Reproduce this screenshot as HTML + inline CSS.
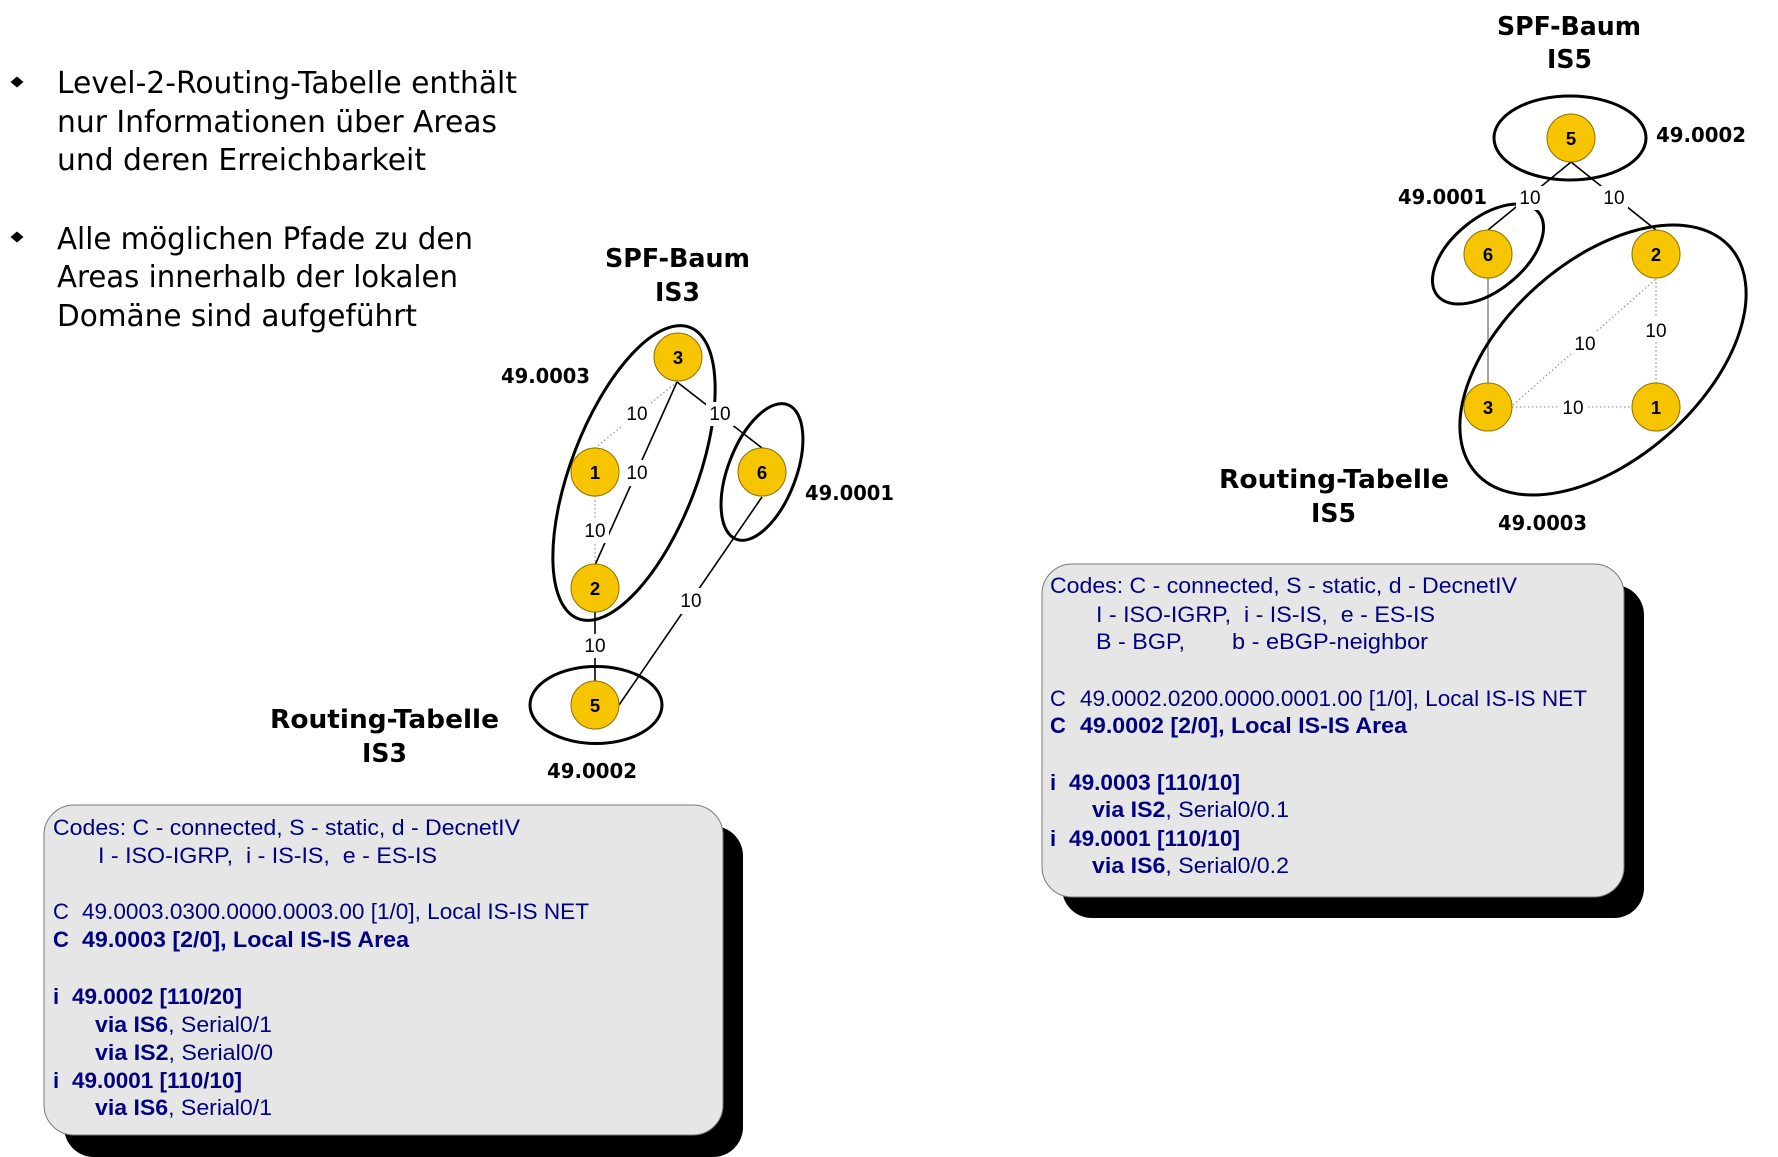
<!DOCTYPE html>
<html><head><meta charset="utf-8"><style>
html,body{margin:0;padding:0;background:#fff;}
svg{display:block;}
.bl{font-family:"DejaVu Sans",sans-serif;font-size:30px;fill:#000;}
.tt{font-family:"DejaVu Sans",sans-serif;font-weight:bold;font-size:25.5px;fill:#000;}
.ar{font-family:"DejaVu Sans",sans-serif;font-weight:bold;font-size:20.5px;fill:#000;}
.el{font-family:"Liberation Sans",sans-serif;font-size:19px;fill:#000;text-anchor:middle;}
.nd{font-family:"Liberation Sans",sans-serif;font-weight:bold;font-size:18.5px;fill:#000;text-anchor:middle;}
.tx{font-family:"Liberation Sans",sans-serif;font-size:22px;fill:#000080;white-space:pre;}
.bd{font-weight:bold;}
.node{fill:#F7C500;stroke:#8a7200;stroke-width:1;}
.ell{fill:none;stroke:#000;stroke-width:3;}
.sol{stroke:#000;stroke-width:1.6;fill:none;}
.dot{stroke:#9a9a9a;stroke-width:1.3;stroke-dasharray:1.5 2.5;fill:none;}
</style></head><body>
<svg width="1778" height="1157" viewBox="0 0 1778 1157" xmlns="http://www.w3.org/2000/svg">
<rect width="1778" height="1157" fill="#fff"/>

<!-- Bullets -->
<path d="M17 76.5 L23.5 82 L17 87.5 L10.5 82 Z" fill="#000"/>
<path d="M17 231.5 L23.5 237 L17 242.5 L10.5 237 Z" fill="#000"/>
<text class="bl" x="57" y="93" textLength="460" lengthAdjust="spacingAndGlyphs">Level-2-Routing-Tabelle enthält</text>
<text class="bl" x="57" y="132" textLength="440" lengthAdjust="spacingAndGlyphs">nur Informationen über Areas</text>
<text class="bl" x="57" y="170" textLength="369" lengthAdjust="spacingAndGlyphs">und deren Erreichbarkeit</text>
<text class="bl" x="57" y="249" textLength="416" lengthAdjust="spacingAndGlyphs">Alle möglichen Pfade zu den</text>
<text class="bl" x="57" y="287" textLength="401" lengthAdjust="spacingAndGlyphs">Areas innerhalb der lokalen</text>
<text class="bl" x="57" y="326" textLength="360" lengthAdjust="spacingAndGlyphs">Domäne sind aufgeführt</text>

<!-- ===== Left SPF tree (IS3) ===== -->
<text class="tt" x="605" y="267" textLength="145" lengthAdjust="spacingAndGlyphs">SPF-Baum</text>
<text class="tt" x="655" y="301" textLength="45" lengthAdjust="spacingAndGlyphs">IS3</text>

<line class="dot" x1="677" y1="382" x2="595" y2="448"/>
<line class="sol" x1="677" y1="382" x2="595" y2="565"/>
<line class="sol" x1="677" y1="382" x2="762" y2="448"/>
<line class="dot" x1="595" y1="496" x2="595" y2="564"/>
<line class="sol" x1="595" y1="612" x2="595" y2="681"/>
<line class="sol" x1="762" y1="497" x2="619" y2="705"/>

<ellipse class="ell" cx="634" cy="473" rx="63" ry="156" transform="rotate(21 634 473)"/>
<ellipse class="ell" cx="762" cy="472" rx="34" ry="72" transform="rotate(21 762 472)"/>
<ellipse class="ell" cx="596" cy="705" rx="66" ry="38.5"/>

<g>
<rect x="623" y="402" width="28" height="24" fill="#fff"/><text class="el" x="637" y="420">10</text>
<rect x="706" y="402" width="28" height="24" fill="#fff"/><text class="el" x="720" y="420">10</text>
<rect x="623" y="460" width="28" height="26" fill="#fff"/><text class="el" x="637" y="479">10</text>
<rect x="581" y="519" width="28" height="24" fill="#fff"/><text class="el" x="595" y="537">10</text>
<rect x="581" y="634" width="28" height="24" fill="#fff"/><text class="el" x="595" y="652">10</text>
<rect x="677" y="588" width="28" height="26" fill="#fff"/><text class="el" x="691" y="607">10</text>
</g>

<circle class="node" cx="678" cy="357" r="24"/><text class="nd" x="678" y="364">3</text>
<circle class="node" cx="595" cy="472" r="24"/><text class="nd" x="595" y="479">1</text>
<circle class="node" cx="762" cy="472" r="24"/><text class="nd" x="762" y="479">6</text>
<circle class="node" cx="595" cy="588" r="24"/><text class="nd" x="595" y="595">2</text>
<circle class="node" cx="595" cy="705" r="24"/><text class="nd" x="595" y="712">5</text>

<text class="ar" x="501" y="383" textLength="89" lengthAdjust="spacingAndGlyphs">49.0003</text>
<text class="ar" x="805" y="500" textLength="89" lengthAdjust="spacingAndGlyphs">49.0001</text>
<text class="ar" x="547" y="778" textLength="90" lengthAdjust="spacingAndGlyphs">49.0002</text>

<text class="tt" x="270" y="728" textLength="229" lengthAdjust="spacingAndGlyphs">Routing-Tabelle</text>
<text class="tt" x="362" y="762" textLength="45" lengthAdjust="spacingAndGlyphs">IS3</text>

<!-- ===== Right SPF tree (IS5) ===== -->
<text class="tt" x="1497" y="35" textLength="144" lengthAdjust="spacingAndGlyphs">SPF-Baum</text>
<text class="tt" x="1547" y="68" textLength="45" lengthAdjust="spacingAndGlyphs">IS5</text>

<line class="sol" x1="1571" y1="162" x2="1488" y2="230"/>
<line class="sol" x1="1571" y1="162" x2="1656" y2="230"/>
<line x1="1488" y1="278" x2="1488" y2="383" stroke="#6a6a6a" stroke-width="1.2"/>
<line class="dot" x1="1656" y1="278" x2="1656" y2="383"/>
<line class="dot" x1="1513" y1="405" x2="1657" y2="278"/>
<line class="dot" x1="1512" y1="407" x2="1632" y2="407"/>

<ellipse class="ell" cx="1570" cy="138" rx="76" ry="42"/>
<ellipse class="ell" cx="1488" cy="254" rx="36" ry="65.5" transform="rotate(50.6 1488 254)"/>
<ellipse class="ell" cx="1603" cy="360" rx="170" ry="99" transform="rotate(-41.6 1603 360)"/>

<g>
<rect x="1516" y="186" width="28" height="24" fill="#fff"/><text class="el" x="1530" y="204">10</text>
<rect x="1600" y="186" width="28" height="24" fill="#fff"/><text class="el" x="1614" y="204">10</text>
<rect x="1642" y="318" width="28" height="24" fill="#fff"/><text class="el" x="1656" y="337">10</text>
<rect x="1571" y="331" width="28" height="24" fill="#fff"/><text class="el" x="1585" y="350">10</text>
<rect x="1559" y="396" width="28" height="22" fill="#fff"/><text class="el" x="1573" y="414">10</text>
</g>

<circle class="node" cx="1571" cy="138" r="24"/><text class="nd" x="1571" y="145">5</text>
<circle class="node" cx="1488" cy="254" r="24"/><text class="nd" x="1488" y="261">6</text>
<circle class="node" cx="1656" cy="254" r="24"/><text class="nd" x="1656" y="261">2</text>
<circle class="node" cx="1488" cy="407" r="24"/><text class="nd" x="1488" y="414">3</text>
<circle class="node" cx="1656" cy="407" r="24"/><text class="nd" x="1656" y="414">1</text>

<text class="ar" x="1656" y="142" textLength="90" lengthAdjust="spacingAndGlyphs">49.0002</text>
<text class="ar" x="1398" y="204" textLength="89" lengthAdjust="spacingAndGlyphs">49.0001</text>
<text class="ar" x="1498" y="530" textLength="89" lengthAdjust="spacingAndGlyphs">49.0003</text>

<text class="tt" x="1219" y="488" textLength="230" lengthAdjust="spacingAndGlyphs">Routing-Tabelle</text>
<text class="tt" x="1311" y="522" textLength="45" lengthAdjust="spacingAndGlyphs">IS5</text>

<!-- ===== Left routing table ===== -->
<rect x="64" y="826" width="679" height="331" rx="30" ry="30" fill="#000"/>
<rect x="44" y="805" width="679" height="330" rx="30" ry="30" fill="#e6e6e6" stroke="#7a7a7a" stroke-width="1"/>
<text class="tx" x="53" y="835" textLength="467" lengthAdjust="spacingAndGlyphs">Codes: C - connected, S - static, d - DecnetIV</text>
<text class="tx" x="98" y="863" textLength="339" lengthAdjust="spacingAndGlyphs">I - ISO-IGRP,  i - IS-IS,  e - ES-IS</text>
<text class="tx" x="53" y="919">C</text>
<text class="tx" x="82" y="919" textLength="507" lengthAdjust="spacingAndGlyphs">49.0003.0300.0000.0003.00 [1/0], Local IS-IS NET</text>
<text class="tx bd" x="53" y="947">C</text>
<text class="tx bd" x="82" y="947" textLength="327" lengthAdjust="spacingAndGlyphs">49.0003 [2/0], Local IS-IS Area</text>
<text class="tx bd" x="53" y="1004">i</text>
<text class="tx bd" x="72" y="1004" textLength="170" lengthAdjust="spacingAndGlyphs">49.0002 [110/20]</text>
<text class="tx" x="95" y="1032" textLength="177" lengthAdjust="spacingAndGlyphs"><tspan class="bd">via IS6</tspan>, Serial0/1</text>
<text class="tx" x="95" y="1060" textLength="178" lengthAdjust="spacingAndGlyphs"><tspan class="bd">via IS2</tspan>, Serial0/0</text>
<text class="tx bd" x="53" y="1088">i</text>
<text class="tx bd" x="72" y="1088" textLength="170" lengthAdjust="spacingAndGlyphs">49.0001 [110/10]</text>
<text class="tx" x="95" y="1115" textLength="177" lengthAdjust="spacingAndGlyphs"><tspan class="bd">via IS6</tspan>, Serial0/1</text>

<!-- ===== Right routing table ===== -->
<rect x="1062" y="585" width="582" height="333" rx="30" ry="30" fill="#000"/>
<rect x="1042" y="564" width="582" height="333" rx="30" ry="30" fill="#e6e6e6" stroke="#7a7a7a" stroke-width="1"/>
<text class="tx" x="1050" y="593" textLength="467" lengthAdjust="spacingAndGlyphs">Codes: C - connected, S - static, d - DecnetIV</text>
<text class="tx" x="1096" y="622" textLength="339" lengthAdjust="spacingAndGlyphs">I - ISO-IGRP,  i - IS-IS,  e - ES-IS</text>
<text class="tx" x="1096" y="649" textLength="89" lengthAdjust="spacingAndGlyphs">B - BGP,</text>
<text class="tx" x="1232" y="649" textLength="196" lengthAdjust="spacingAndGlyphs">b - eBGP-neighbor</text>
<text class="tx" x="1050" y="706">C</text>
<text class="tx" x="1080" y="706" textLength="507" lengthAdjust="spacingAndGlyphs">49.0002.0200.0000.0001.00 [1/0], Local IS-IS NET</text>
<text class="tx bd" x="1050" y="733">C</text>
<text class="tx bd" x="1080" y="733" textLength="327" lengthAdjust="spacingAndGlyphs">49.0002 [2/0], Local IS-IS Area</text>
<text class="tx bd" x="1050" y="790">i</text>
<text class="tx bd" x="1069" y="790" textLength="171" lengthAdjust="spacingAndGlyphs">49.0003 [110/10]</text>
<text class="tx" x="1092" y="817" textLength="197" lengthAdjust="spacingAndGlyphs"><tspan class="bd">via IS2</tspan>, Serial0/0.1</text>
<text class="tx bd" x="1050" y="846">i</text>
<text class="tx bd" x="1069" y="846" textLength="171" lengthAdjust="spacingAndGlyphs">49.0001 [110/10]</text>
<text class="tx" x="1092" y="873" textLength="197" lengthAdjust="spacingAndGlyphs"><tspan class="bd">via IS6</tspan>, Serial0/0.2</text>
</svg>
</body></html>
